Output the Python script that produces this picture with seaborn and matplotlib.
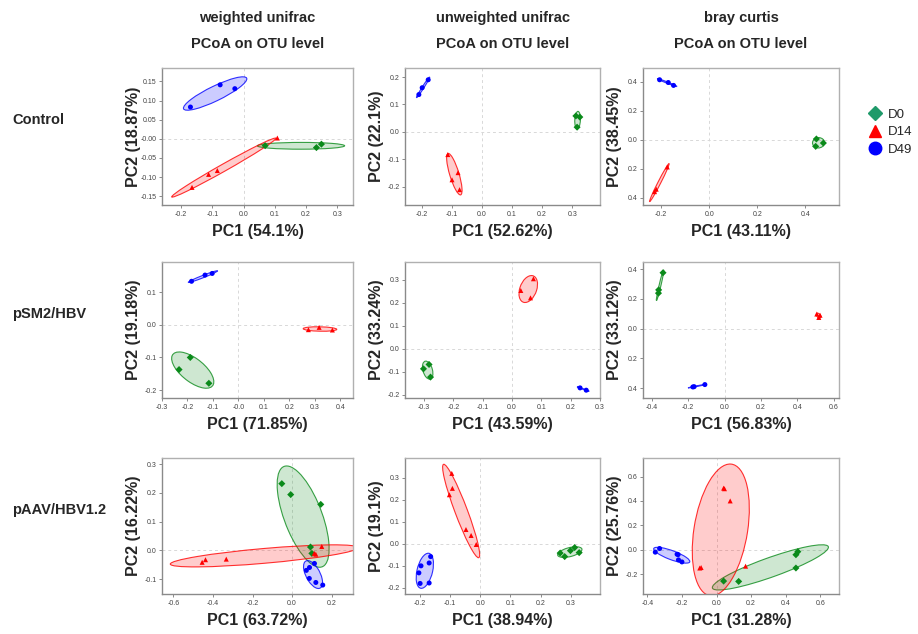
import numpy as np
import pandas as pd
import seaborn as sns
import matplotlib.pyplot as plt
from matplotlib.patches import Ellipse
from matplotlib.lines import Line2D
from matplotlib.ticker import MultipleLocator, FuncFormatter

groups = ['D0', 'D14', 'D49']
metrics = ['weighted unifrac', 'unweighted unifrac', 'bray curtis']
models = ['Control', 'pSM2/HBV', 'pAAV/HBV1.2']

pc1_pct = [['54.1%', '52.62%', '43.11%'],
           ['71.85%', '43.59%', '56.83%'],
           ['63.72%', '38.94%', '31.28%']]
pc2_pct = [['18.87%', '22.1%', '38.45%'],
           ['19.18%', '33.24%', '33.12%'],
           ['16.22%', '19.1%', '25.76%']]

# Control
wu_ctrl_x = [0.069, 0.233, 0.249, -0.165, -0.112, -0.084, 0.108, -0.170, -0.075, -0.028]
wu_ctrl_y = [-0.018, -0.023, -0.014, -0.127, -0.093, -0.083, 0.002, 0.083, 0.141, 0.131]
wu_ctrl_g = ['D0'] * 3 + ['D14'] * 4 + ['D49'] * 3

uu_ctrl_x = [0.312, 0.325, 0.316, -0.113, -0.079, -0.099, -0.074, -0.209, -0.198, -0.178]
uu_ctrl_y = [0.058, 0.054, 0.017, -0.083, -0.149, -0.175, -0.211, 0.136, 0.161, 0.190]
uu_ctrl_g = ['D0'] * 3 + ['D14'] * 4 + ['D49'] * 3

bc_ctrl_x = [0.446, 0.475, 0.443, -0.174, -0.220, -0.227, -0.206, -0.170, -0.148]
bc_ctrl_y = [0.006, -0.022, -0.045, -0.187, -0.340, -0.357, 0.414, 0.395, 0.375]
bc_ctrl_g = ['D0'] * 3 + ['D14'] * 3 + ['D49'] * 3

# pSM2/HBV
wu_psm_x = [-0.189, -0.233, -0.116, 0.275, 0.317, 0.369, -0.184, -0.131, -0.103]
wu_psm_y = [-0.100, -0.137, -0.179, -0.015, -0.008, -0.016, 0.133, 0.152, 0.157]
wu_psm_g = ['D0'] * 3 + ['D14'] * 3 + ['D49'] * 3

uu_psm_x = [-0.302, -0.283, -0.278, 0.030, 0.073, 0.063, 0.232, 0.253]
uu_psm_y = [-0.088, -0.069, -0.124, 0.253, 0.304, 0.221, -0.171, -0.181]
uu_psm_g = ['D0'] * 3 + ['D14'] * 3 + ['D49'] * 2

bc_psm_x = [-0.338, -0.362, -0.363, 0.507, 0.518, 0.525, -0.167, -0.108, -0.174]
bc_psm_y = [0.375, 0.260, 0.238, 0.098, 0.075, 0.090, -0.389, -0.375, -0.391]
bc_psm_g = ['D0'] * 3 + ['D14'] * 3 + ['D49'] * 3

# pAAV/HBV1.2
wu_paav_x = [-0.052, -0.007, 0.145, 0.093, 0.100,
             -0.455, -0.438, -0.333, 0.150, 0.112, 0.120,
             0.113, 0.072, 0.088, 0.087, 0.120, 0.155]
wu_paav_y = [0.232, 0.194, 0.160, 0.012, -0.010,
             -0.041, -0.032, -0.030, 0.014, -0.010, -0.013,
             -0.045, -0.069, -0.059, -0.097, -0.111, -0.120]
wu_paav_g = ['D0'] * 5 + ['D14'] * 6 + ['D49'] * 6

uu_paav_x = [0.265, 0.280, 0.299, 0.313, 0.328,
             -0.094, -0.092, -0.102, -0.047, -0.030, -0.013,
             -0.164, -0.169, -0.196, -0.203, -0.199, -0.169]
uu_paav_y = [-0.042, -0.058, -0.031, -0.017, -0.040,
             0.320, 0.252, 0.223, 0.065, 0.038, -0.003,
             -0.058, -0.087, -0.100, -0.132, -0.180, -0.178]
uu_paav_g = ['D0'] * 5 + ['D14'] * 6 + ['D49'] * 6

bc_paav_x = [0.041, 0.128, 0.459, 0.459, 0.470,
             0.041, 0.046, 0.079, -0.089, -0.097, 0.168,
             -0.354, -0.329, -0.228, -0.220, -0.200, -0.222]
bc_paav_y = [-0.257, -0.260, -0.150, -0.041, -0.016,
             0.505, 0.500, 0.400, -0.146, -0.150, -0.135,
             -0.020, 0.010, -0.037, -0.083, -0.100, -0.040]
bc_paav_g = ['D0'] * 5 + ['D14'] * 6 + ['D49'] * 6

panels = [[(wu_ctrl_x, wu_ctrl_y, wu_ctrl_g), (uu_ctrl_x, uu_ctrl_y, uu_ctrl_g), (bc_ctrl_x, bc_ctrl_y, bc_ctrl_g)],
          [(wu_psm_x, wu_psm_y, wu_psm_g), (uu_psm_x, uu_psm_y, uu_psm_g), (bc_psm_x, bc_psm_y, bc_psm_g)],
          [(wu_paav_x, wu_paav_y, wu_paav_g), (uu_paav_x, uu_paav_y, uu_paav_g), (bc_paav_x, bc_paav_y, bc_paav_g)]]

# axis ranges and tick steps
xlims = [[(-0.261, 0.35), (-0.255, 0.392), (-0.275, 0.54)],
         [(-0.3, 0.45), (-0.365, 0.3), (-0.448, 0.629)],
         [(-0.658, 0.308), (-0.249, 0.397), (-0.425, 0.708)]]
ylims = [[(-0.173, 0.185), (-0.267, 0.233), (-0.449, 0.495)],
         [(-0.224, 0.192), (-0.215, 0.377), (-0.465, 0.447)],
         [(-0.151, 0.321), (-0.228, 0.39), (-0.363, 0.752)]]
xsteps = [[0.1, 0.1, 0.2], [0.1, 0.1, 0.2], [0.2, 0.1, 0.2]]
ysteps = [[0.05, 0.1, 0.2], [0.1, 0.1, 0.2], [0.1, 0.1, 0.2]]

palette = {'D0': '#0a8a1a', 'D14': '#ff0000', 'D49': '#0000ff'}
markers = {'D0': 'D', 'D14': '^', 'D49': 'o'}

sns.set_style('white')
plt.rcParams['font.family'] = ['Liberation Sans', 'DejaVu Sans']
plt.rcParams['axes.unicode_minus'] = False

W, H = 918, 634
fig = plt.figure(figsize=(W / 100, H / 100), dpi=100)

col_left = [162, 405, 643]
col_w = [191, 195, 196]
row_top = [68, 262, 458]
row_h = [137, 136, 136]


def fmt(dec, noneg=False, negzero=False):
    def f(v, pos):
        if abs(v) < 1e-9:
            s = f"{0:.{dec}f}"
            return '-' + s if negzero else s
        s = f"{v:.{dec}f}"
        return s.lstrip('-') if noneg else s
    return f


def add_ellipse(ax, xs, ys, color):
    # normal-theory ellipse from the group covariance
    pts = np.column_stack([xs, ys])
    r = 1.4 if len(pts) <= 4 else 1.6
    mu = pts.mean(axis=0)
    cov = np.cov(pts.T)
    cov = cov + np.eye(2) * 2e-3 * np.trace(cov)
    vals, vecs = np.linalg.eigh(cov)
    angle = np.degrees(np.arctan2(vecs[1, 1], vecs[0, 1]))
    w, h = 2 * r * np.sqrt(vals[1]), 2 * r * np.sqrt(vals[0])
    ax.add_patch(Ellipse(mu, w, h, angle=angle, facecolor=color, alpha=0.2, edgecolor='none', zorder=1))
    ax.add_patch(Ellipse(mu, w, h, angle=angle, facecolor='none', edgecolor=color, lw=0.8, alpha=0.8, zorder=1))


for i in range(3):
    for j in range(3):
        x, y, g = panels[i][j]
        df = pd.DataFrame({'PC1': x, 'PC2': y, 'group': g})
        ax = fig.add_axes([col_left[j] / W, 1 - (row_top[i] + row_h[i]) / H, col_w[j] / W, row_h[i] / H])
        ax.axhline(0, color='#d8d8d8', ls=(0, (3, 3)), lw=0.7, zorder=0)
        ax.axvline(0, color='#d8d8d8', ls=(0, (3, 3)), lw=0.7, zorder=0)
        for grp in groups:
            sub = df[df['group'] == grp]
            add_ellipse(ax, sub['PC1'].values, sub['PC2'].values, palette[grp])
        sns.scatterplot(data=df, x='PC1', y='PC2', hue='group', style='group', palette=palette,
                        markers=markers, s=13, linewidth=0, legend=False, ax=ax, zorder=3)
        ax.set_xlim(*xlims[i][j])
        ax.set_ylim(*ylims[i][j])
        ax.xaxis.set_major_locator(MultipleLocator(xsteps[i][j]))
        ax.yaxis.set_major_locator(MultipleLocator(ysteps[i][j]))
        ydec = 2 if ysteps[i][j] == 0.05 else 1
        ax.xaxis.set_major_formatter(FuncFormatter(fmt(1, negzero=(i == 1 and j == 0))))
        ax.yaxis.set_major_formatter(FuncFormatter(fmt(ydec, noneg=(j == 2 and i < 2),
                                                       negzero=(i == 0 and j == 0))))
        ax.tick_params(axis='both', which='major', length=2.5, width=0.6, color='#777777',
                       labelsize=5, labelcolor='#444444', pad=1.5, bottom=True, left=True)
        for side, sp in ax.spines.items():
            sp.set_color('#8a8a8a' if side in ('left', 'bottom') else '#b0b0b0')
            sp.set_linewidth(1.0)
        ax.set_xlabel(f'PC1 ({pc1_pct[i][j]})', fontsize=11.5, fontweight='bold')
        ax.set_ylabel(f'PC2 ({pc2_pct[i][j]})', fontsize=11.5, fontweight='bold')
        ax.xaxis.set_label_coords(0.5, -19 / row_h[i])
        ax.yaxis.set_label_coords(-21 / col_w[j], 0.5)

# column headers
for j, m in enumerate(metrics):
    cx = (col_left[j] + col_w[j] / 2) / W
    fig.text(cx, 1 - 18 / H, m, ha='center', va='center', fontsize=10.5, fontweight='bold')
    fig.text(cx, 1 - 44 / H, 'PCoA on OTU level', ha='center', va='center', fontsize=10.5, fontweight='bold')

# row labels
for i, m in enumerate(models):
    cy = 1 - (row_top[i] + 52) / H
    fig.text(12 / W, cy, m, ha='left', va='center', fontsize=10.5, fontweight='bold')

handles = [Line2D([], [], ls='none', marker='D', color='#1f9a6a', markersize=7),
           Line2D([], [], ls='none', marker='^', color='#ff0000', markersize=9),
           Line2D([], [], ls='none', marker='o', color='#0000ff', markersize=9)]
fig.legend(handles, groups, loc='upper left', bbox_to_anchor=(858 / W, 1 - 102 / H), frameon=False,
           fontsize=9.5, handletextpad=0.2, handlelength=1.6, labelspacing=0.4, borderpad=0)

fig.savefig('out.png', dpi=100)
